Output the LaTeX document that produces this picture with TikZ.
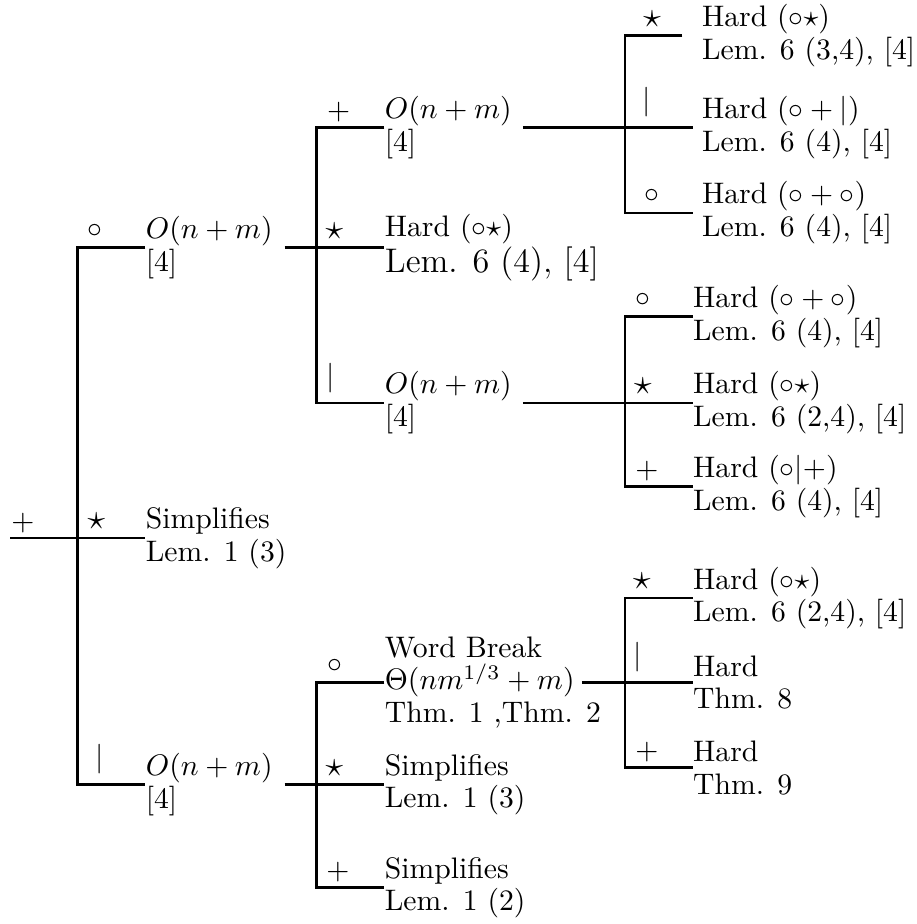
\documentclass[tikz,border=0pt]{standalone}
\begin{document}
\begin{tikzpicture}[
    edge/.style={line width=0.9pt},
    res/.style={anchor=west, align=left, inner xsep=0pt, font=\fontsize{10}{11}\selectfont},
    op/.style={anchor=south, inner sep=3.3pt},
    opplus/.style={op, inner ysep=1.6pt},
    opstar/.style={op, font=\large, inner ysep=2.6pt}
  ]
  \useasboundingbox (0,0) rectangle (10.85,-10.94);
  % level 0
  \coordinate (root) at (0.12,-6.37);
  \coordinate (rj) at (0.92,-6.37);
  \node[res] (A) at (1.72,-2.93) {$O(n+m)$\\{}[4]};
  \node[res] (B) at (1.72,-6.37) {Simplifies\\Lem. 1 (3)};
  \node[res] (C) at (1.72,-9.29) {$O(n+m)$\\{}[4]};
  \draw[edge] (root) -- (B.west);
  \draw[edge] (A.west) -| (rj) |- (C.west);
  \node[opplus] (l-root) at (0.27,-6.37) {$+$};
  \node[op] (l-A) at (1.12,-2.93) {$\circ$};
  \node[opstar] (l-B) at (1.14,-6.37) {$\star$};
  \node[op] (l-C) at (1.18,-9.29) {$|$};
  % under A
  \coordinate (A-o) at (3.37,-2.93);
  \coordinate (Aj) at (3.75,-2.93);
  \node[res] (A1) at (4.55,-1.51) {$O(n+m)$\\{}[4]};
  \node[res] (A2) at (4.55,-2.93) {Hard $(\circ\star)$\\{\fontsize{11.5}{13}\selectfont Lem. 6 (4), [4]}};
  \node[res] (A3) at (4.55,-4.77) {$O(n+m)$\\{}[4]};
  \draw[edge] (A-o) -- (A2.west);
  \draw[edge] (A1.west) -| (Aj) |- (A3.west);
  \node[opplus] (l-A1) at (4.01,-1.51) {$+$};
  \node[opstar] (l-A2) at (3.96,-2.93) {$\star$};
  \node[op] (l-A3) at (3.91,-4.77) {$|$};
  % under A1
  \coordinate (A1-o) at (6.19,-1.51);
  \coordinate (A1j) at (7.40,-1.51);
  \node[res, inner xsep=6.4pt] (A11) at (8.08,-0.42) {Hard $(\circ\star)$\\Lem. 6 (3,4), [4]};
  \node[res, inner xsep=3pt] (A12) at (8.20,-1.51) {Hard $(\circ+|)$\\Lem. 6 (4), [4]};
  \node[res, inner xsep=3pt] (A13) at (8.20,-2.52) {Hard $(\circ+\circ)$\\Lem. 6 (4), [4]};
  \draw[edge] (A1-o) -- (A12.west);
  \draw[edge] (A11.west) -| (A1j) |- (A13.west);
  \node[opstar] (l-A11) at (7.72,-0.42) {$\star$};
  \node[op] (l-A12) at (7.66,-1.51) {$|$};
  \node[op] (l-A13) at (7.72,-2.52) {$\circ$};
  % under A3
  \coordinate (A3-o) at (6.19,-4.77);
  \coordinate (A3j) at (7.40,-4.77);
  \node[res] (A31) at (8.20,-3.75) {Hard $(\circ+\circ)$\\Lem. 6 (4), [4]};
  \node[res] (A32) at (8.20,-4.77) {Hard $(\circ\star)$\\Lem. 6 (2,4), [4]};
  \node[res] (A33) at (8.20,-5.76) {Hard $(\circ|+)$\\Lem. 6 (4), [4]};
  \draw[edge] (A3-o) -- (A32.west);
  \draw[edge] (A31.west) -| (A3j) |- (A33.west);
  \node[op] (l-A31) at (7.61,-3.75) {$\circ$};
  \node[opstar] (l-A32) at (7.61,-4.77) {$\star$};
  \node[opplus] (l-A33) at (7.66,-5.76) {$+$};
  % under C
  \coordinate (C-o) at (3.37,-9.29);
  \coordinate (Cj) at (3.75,-9.29);
  \node[res] (C1) at (4.55,-8.08) {Word Break\\$\Theta(nm^{1/3}+m)$\\Thm. 1 ,Thm. 2};
  \node[res] (C2) at (4.55,-9.29) {Simplifies\\Lem. 1 (3)};
  \node[res] (C3) at (4.55,-10.51) {Simplifies\\Lem. 1 (2)};
  \draw[edge] (C-o) -- (C2.west);
  \draw[edge] (C1.west) -| (Cj) |- (C3.west);
  \node[op] (l-C1) at (3.96,-8.08) {$\circ$};
  \node[opstar] (l-C2) at (3.96,-9.29) {$\star$};
  \node[opplus] (l-C3) at (4.00,-10.51) {$+$};
  % under C1
  \coordinate (C1-o) at (6.89,-8.08);
  \coordinate (C1j) at (7.40,-8.08);
  \node[res] (C11) at (8.20,-7.08) {Hard $(\circ\star)$\\Lem. 6 (2,4), [4]};
  \node[res] (C12) at (8.20,-8.08) {Hard\\Thm. 8};
  \node[res] (C13) at (8.20,-9.09) {Hard\\Thm. 9};
  \draw[edge] (C1-o) -- (C12.west);
  \draw[edge] (C11.west) -| (C1j) |- (C13.west);
  \node[opstar] (l-C11) at (7.60,-7.08) {$\star$};
  \node[op] (l-C12) at (7.55,-8.08) {$|$};
  \node[opplus] (l-C13) at (7.66,-9.09) {$+$};
\end{tikzpicture}
\end{document}
